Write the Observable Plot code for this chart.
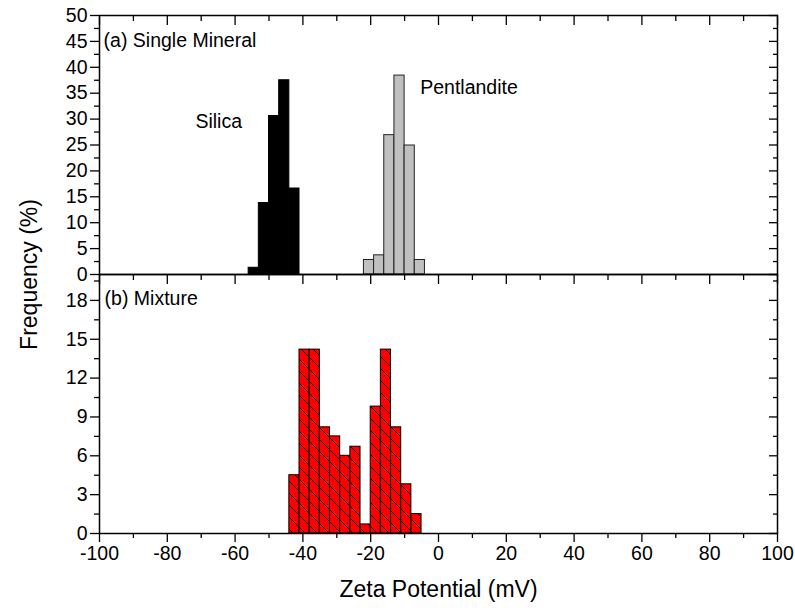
<!DOCTYPE html>
<html>
<head>
<meta charset="utf-8">
<script src="https://cdn.jsdelivr.net/npm/d3@7"></script>
<script src="https://cdn.jsdelivr.net/npm/@observablehq/plot@0.6"></script>
<style>
  html, body { margin: 0; padding: 0; background: #fff; }
  #wrap { position: relative; width: 795px; height: 611px; }
  #wrap svg { position: absolute; left: 0; top: 0; }
</style>
</head>
<body>
<div id="wrap"></div>
<script>
// ---- data ----
const binWidth = 3;
const silicaBins = [-56, -53, -50, -47, -44];
const silicaFreq = [1.3, 13.8, 30.6, 37.5, 16.6];
const pentBins = [-22, -19, -16, -13, -10, -7];
const pentFreq = [2.8, 3.7, 26.9, 38.4, 24.9, 2.8];
const mixBins = [-44, -41, -38, -35, -32, -29, -26, -23, -20, -17, -14, -11, -8];
const mixFreq = [4.5, 14.2, 14.2, 8.2, 7.5, 6.0, 6.7, 0.7, 9.8, 14.2, 8.2, 3.8, 1.5];

const xMajor = d3.range(-100, 101, 20);
const xMinor = d3.range(-90, 100, 20);
const yTopMajor = d3.range(0, 51, 5);
const yTopMinor = d3.range(2.5, 50, 5);
const yBotMajor = d3.range(0, 19, 3);
const yBotMinor = d3.range(1.5, 20, 3);

const topLabels = [
  {text: "(a) Single Mineral", x: -98.8, y: 45.2},
  {text: "Silica", x: -71.7, y: 29.5},
  {text: "Pentlandite", x: -5.4, y: 36.1}
];
const botLabels = [{text: "(b) Mixture", x: -98.5, y: 18.1}];
const xTitle = "Zeta Potential (mV)";
const yTitle = "Frequency (%)";

const toRows = (bins, freq) => bins.map((b, i) => ({x1: b, x2: b + binWidth, y: freq[i]}));
const silica = toRows(silicaBins, silicaFreq);
const pent = toRows(pentBins, pentFreq);
const mix = toRows(mixBins, mixFreq);

const W = 795, H = 611;
const font = "'Liberation Sans', Arial, sans-serif";
const baseStyle = {background: "transparent", color: "black", fontFamily: font, overflow: "visible"};
const MAJ = 9, MIN = 5, FS = 19.5, LFS = 19.5, TFS = 23;
const fmt = d => String(d);

const topPlot = Plot.plot({
  width: W, height: H,
  marginLeft: 99, marginRight: 18, marginTop: 15, marginBottom: H - 274,
  style: baseStyle,
  x: {domain: [-100, 100]},
  y: {domain: [0, 50]},
  marks: [
    Plot.rectY(pent, {x1: "x1", x2: "x2", y: "y", fill: "#c0c0c0", stroke: "#222", strokeWidth: 1}),
    Plot.rectY(silica, {x1: "x1", x2: "x2", y: "y", fill: "black", stroke: "black", strokeWidth: 1}),
    Plot.axisY({anchor: "left", ticks: yTopMajor, tickSize: MAJ, tickPadding: 3, tickFormat: fmt, fontSize: FS, label: null, strokeWidth: 1.3}),
    Plot.axisY({anchor: "left", ticks: yTopMinor, tickSize: MIN, tickFormat: () => "", label: null, strokeWidth: 1.3}),
    Plot.axisY({anchor: "right", ticks: yTopMajor, tickSize: -MAJ, tickFormat: () => "", label: null, strokeWidth: 1.3}),
    Plot.axisY({anchor: "right", ticks: yTopMinor, tickSize: -MIN, tickFormat: () => "", label: null, strokeWidth: 1.3}),
    Plot.axisX({anchor: "top", ticks: xMajor, tickSize: -MAJ, tickFormat: () => "", label: null, strokeWidth: 1.3}),
    Plot.axisX({anchor: "top", ticks: xMinor, tickSize: -MIN, tickFormat: () => "", label: null, strokeWidth: 1.3}),
    Plot.text(topLabels, {x: "x", y: "y", text: "text", textAnchor: "start", fontSize: LFS, fill: "black"}),
    Plot.frame({stroke: "black", strokeWidth: 1.5})
  ]
});

const botPlot = Plot.plot({
  width: W, height: H,
  marginLeft: 99, marginRight: 18, marginTop: 274, marginBottom: H - 533,
  style: baseStyle,
  x: {domain: [-100, 100]},
  y: {domain: [0, 20]},
  marks: [
    Plot.rectY(mix, {x1: "x1", x2: "x2", y: "y", fill: "url(#hatch)", stroke: "black", strokeWidth: 1}),
    Plot.axisY({anchor: "left", ticks: yBotMajor, tickSize: MAJ, tickPadding: 3, tickFormat: fmt, fontSize: FS, label: null, strokeWidth: 1.3}),
    Plot.axisY({anchor: "left", ticks: yBotMinor, tickSize: MIN, tickFormat: () => "", label: null, strokeWidth: 1.3}),
    Plot.axisY({anchor: "right", ticks: yBotMajor, tickSize: -MAJ, tickFormat: () => "", label: null, strokeWidth: 1.3}),
    Plot.axisY({anchor: "right", ticks: yBotMinor, tickSize: -MIN, tickFormat: () => "", label: null, strokeWidth: 1.3}),
    Plot.axisX({anchor: "top", ticks: xMajor, tickSize: -MAJ, tickFormat: () => "", label: null, strokeWidth: 1.3}),
    Plot.axisX({anchor: "top", ticks: xMinor, tickSize: -MIN, tickFormat: () => "", label: null, strokeWidth: 1.3}),
    Plot.axisX({anchor: "bottom", ticks: xMajor, tickSize: MAJ, tickPadding: 4, tickFormat: fmt, fontSize: FS, label: null, strokeWidth: 1.3}),
    Plot.axisX({anchor: "bottom", ticks: xMinor, tickSize: MIN, tickFormat: () => "", label: null, strokeWidth: 1.3}),
    Plot.text(botLabels, {x: "x", y: "y", text: "text", textAnchor: "start", fontSize: LFS, fill: "black"}),
    Plot.text([xTitle], {text: d => d, frameAnchor: "bottom", dy: 63, fontSize: TFS, fill: "black"}),
    Plot.text([yTitle], {text: d => d, frameAnchor: "top-left", textAnchor: "middle", dx: -79, rotate: -90, fontSize: TFS, fill: "black"}),
    Plot.frame({stroke: "black", strokeWidth: 1.5})
  ]
});

// hatch pattern for the mixture bars
const ns = "http://www.w3.org/2000/svg";
const defs = document.createElementNS(ns, "defs");
defs.innerHTML = `<pattern id="hatch" patternUnits="userSpaceOnUse" width="12" height="12">
  <rect width="12" height="12" fill="#ff0000"></rect>
  <path d="M0,0 L12,12 M-3,9 L3,15 M9,-3 L15,3" stroke="black" stroke-width="0.9"></path>
</pattern>`;
botPlot.insertBefore(defs, botPlot.firstChild);

const wrap = document.getElementById("wrap");
wrap.appendChild(topPlot);
wrap.appendChild(botPlot);
</script>
</body>
</html>
